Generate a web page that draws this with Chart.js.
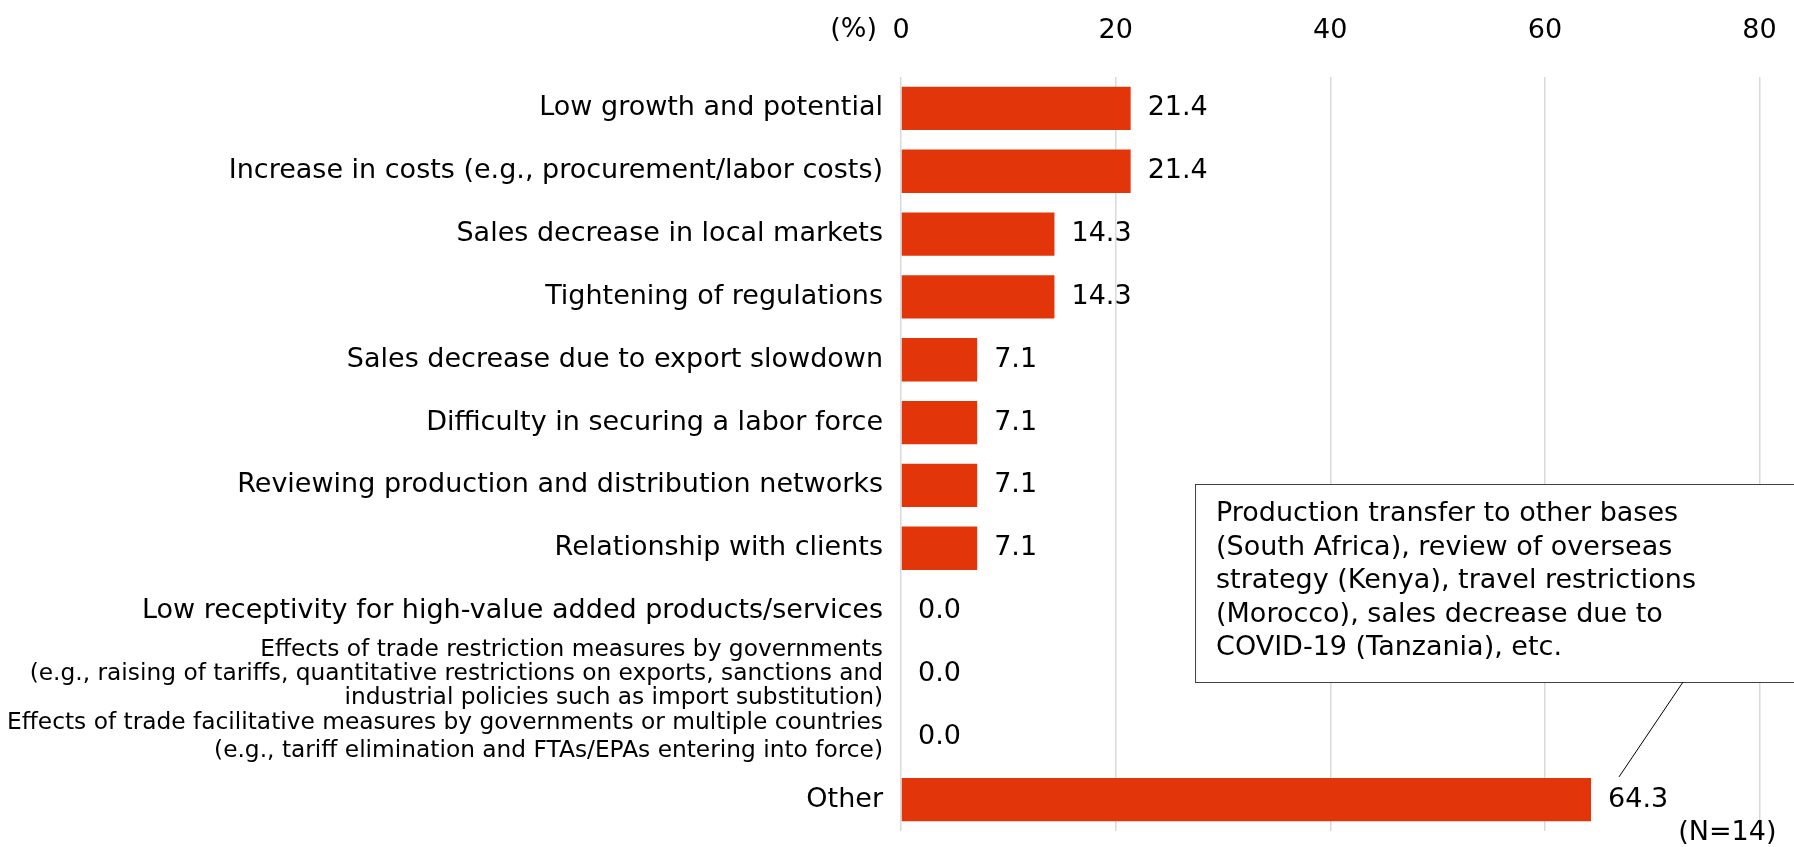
<!DOCTYPE html>
<html>

<head>
    <meta charset="utf-8">
    <title>Reasons</title>
    <script src="https://cdn.jsdelivr.net/npm/chart.js"></script>
    <style>
        body {
            margin: 0;
            background: #fff;
        }
    </style>
</head>

<body>
    <canvas id="graph" width="1794" height="847"></canvas>
    <script>
        // data
        const categories = [
            'Low growth and potential',
            'Increase in costs (e.g., procurement/labor costs)',
            'Sales decrease in local markets',
            'Tightening of regulations',
            'Sales decrease due to export slowdown',
            'Difficulty in securing a labor force',
            'Reviewing production and distribution networks',
            'Relationship with clients',
            'Low receptivity for high-value added products/services',
            ['Effects of trade restriction measures by governments',
                '(e.g., raising of tariffs, quantitative restrictions on exports, sanctions and',
                'industrial policies such as import substitution)'],
            ['Effects of trade facilitative measures by governments or multiple countries',
                '(e.g., tariff elimination and FTAs/EPAs entering into force)'],
            'Other'
        ];
        const values = [21.4, 21.4, 14.3, 14.3, 7.1, 7.1, 7.1, 7.1, 0.0, 0.0, 0.0, 64.3];
        const xTicks = [0, 20, 40, 60, 80];
        const unitLabel = '(%)';
        const sampleNote = '(N=14)';
        const noteLines = [
            'Production transfer to other bases',
            '(South Africa), review of overseas',
            'strategy (Kenya), travel restrictions',
            '(Morocco), sales decrease due to',
            'COVID-19 (Tanzania), etc.'
        ];

        const FONT = '"DejaVu Sans", sans-serif';
        Chart.defaults.font.family = FONT;
        Chart.defaults.color = '#000';

        // value labels at bar ends
        const valueLabels = {
            id: 'valueLabels',
            afterDatasetsDraw(chart) {
                const ctx = chart.ctx;
                const meta = chart.getDatasetMeta(0);
                ctx.save();
                ctx.font = '27px ' + FONT;
                ctx.fillStyle = '#000';
                ctx.textBaseline = 'middle';
                ctx.textAlign = 'left';
                meta.data.forEach((bar, i) => {
                    ctx.fillText(values[i].toFixed(1), bar.x + 17, bar.y);
                });
                ctx.restore();
            }
        };

        // unit, N and the comment box for "Other"
        const extras = {
            id: 'extras',
            afterDraw(chart) {
                const ctx = chart.ctx;
                const area = chart.chartArea;
                const xs = chart.scales.x;
                ctx.save();
                ctx.fillStyle = '#000';
                ctx.font = '27px ' + FONT;
                ctx.textBaseline = 'middle';
                ctx.textAlign = 'right';
                ctx.fillText(unitLabel, area.left - 24, 30);
                ctx.fillText(sampleNote, area.right + 17, 833);

                // comment box
                const bx = xs.getPixelForValue(27.4);
                const by = 484;
                ctx.fillStyle = '#fff';
                ctx.fillRect(bx, by, chart.width - bx + 5, 198);
                ctx.strokeStyle = '#404040';
                ctx.lineWidth = 1;
                ctx.strokeRect(bx + 0.5, by + 0.5, chart.width - bx + 5, 198);
                ctx.fillStyle = '#000';
                ctx.textAlign = 'left';
                noteLines.forEach((t, i) => {
                    ctx.fillText(t, bx + 21, by + 30 + i * 33.5);
                });

                // leader line to the Other value
                const meta = chart.getDatasetMeta(0);
                const last = meta.data[meta.data.length - 1];
                ctx.strokeStyle = '#000';
                ctx.beginPath();
                ctx.moveTo(bx + 488, by + 198);
                ctx.lineTo(last.x + 28, last.y - last.height / 2 - 1);
                ctx.stroke();
                ctx.restore();
            }
        };

        const ctx = document.getElementById('graph').getContext('2d');
        const chart = new Chart(ctx, {
            type: 'bar',
            data: {
                labels: categories,
                datasets: [{
                    data: values,
                    backgroundColor: '#e3350a',
                    borderWidth: 0,
                    barPercentage: 0.69,
                    categoryPercentage: 1
                }]
            },
            options: {
                indexAxis: 'y',
                responsive: false,
                animation: false,
                events: [],
                layout: {
                    padding: { top: 14, right: 34.5, bottom: 16, left: 0 }
                },
                plugins: {
                    legend: { display: false },
                    tooltip: { enabled: false }
                },
                scales: {
                    x: {
                        position: 'top',
                        min: 0,
                        max: 80,
                        afterBuildTicks: (scale) => {
                            scale.ticks = xTicks.map(v => ({ value: v }));
                        },
                        afterFit: (scale) => {
                            scale.height = 63;
                            scale.paddingLeft = 0;
                            scale.paddingRight = 0;
                        },
                        grid: {
                            color: '#d9d9d9',
                            lineWidth: 1.5,
                            drawTicks: false
                        },
                        border: { display: false },
                        ticks: {
                            font: { size: 27 },
                            color: '#000',
                            padding: 30
                        }
                    },
                    y: {
                        afterFit: (scale) => {
                            scale.width = 901;
                            scale.paddingTop = 0;
                            scale.paddingBottom = 0;
                        },
                        grid: { display: false, drawTicks: false },
                        border: { display: false },
                        ticks: {
                            color: '#000',
                            padding: 18,
                            autoSkip: false,
                            font: (c) => {
                                if (c.index === 9) return { size: 23.3, lineHeight: 1.02 };
                                if (c.index === 10) return { size: 23.3, lineHeight: 1.2 };
                                return { size: 27 };
                            }
                        }
                    }
                }
            },
            plugins: [valueLabels, extras]
        });
    </script>
</body>

</html>
